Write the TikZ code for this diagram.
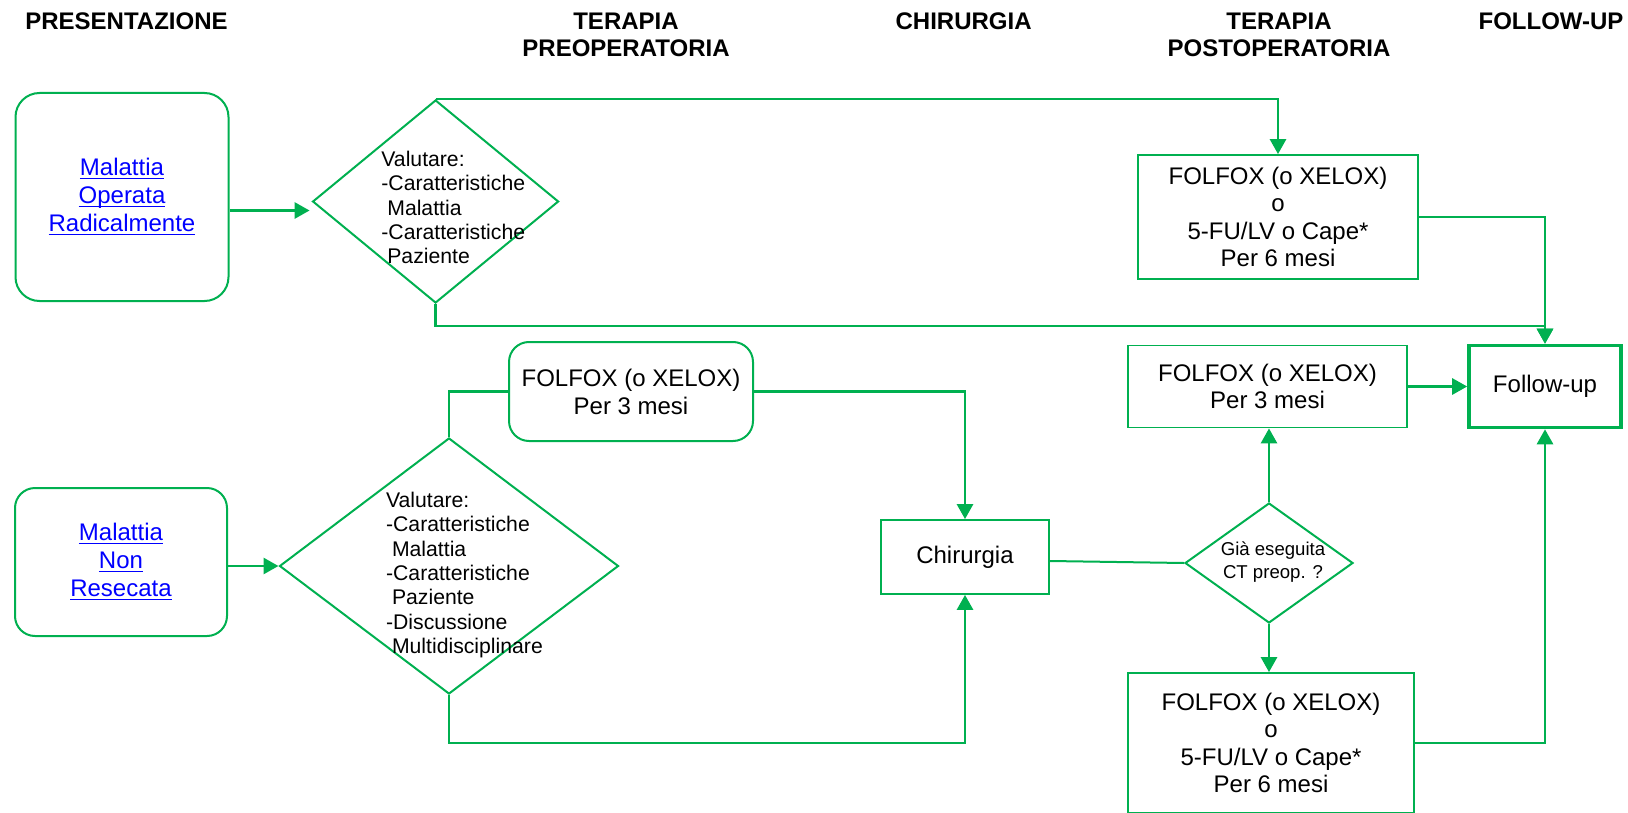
\documentclass[tikz,border=0pt]{standalone}
\usepackage{amsmath}
\usepackage{fontspec}
\setmainfont{Liberation Sans}
\usepackage{tikz}
\usetikzlibrary{arrows.meta,shapes.geometric}
\definecolor{flowgreen}{RGB}{0,176,80}
\definecolor{linkblue}{RGB}{0,0,255}
\newcommand{\lnk}[1]{\textcolor{linkblue}{\underline{\smash[b]{#1}}}}
\newcommand{\ind}{\hspace*{0.28em}}

\begin{document}
\begin{tikzpicture}[x=0.5pt,y=-0.5pt,
    flow/.style={draw=flowgreen, line width=1.4pt},
    flowarrow/.style={flow, -{Triangle[length=7.5pt,width=8pt]}},
    startbox/.style={draw=flowgreen, line width=1pt, rounded corners=12pt, align=center, font=\fontsize{12}{14}\selectfont},
    therapy/.style={draw=flowgreen, line width=0.9pt, align=center, font=\fontsize{12}{13.8}\selectfont},
    decision/.style={diamond, draw=flowgreen, line width=1pt, inner sep=0pt},
    dtext/.style={align=left, inner sep=0pt, font=\fontsize{10.6}{12.2}\selectfont},
    header/.style={align=center, inner sep=0pt, font=\bfseries\fontsize{12}{13.5}\selectfont}]

    \useasboundingbox (0,0) rectangle (1628,813);

    % Column headers
    \node[header] (hpres) at (126.5,21) {PRESENTAZIONE};
    \node[header] (hpre) at (626,34.5) {TERAPIA\\PREOPERATORIA};
    \node[header] (hchir) at (963.6,21) {CHIRURGIA};
    \node[header] (hpost) at (1279,34.5) {TERAPIA\\POSTOPERATORIA};
    \node[header] (hfol) at (1551,21) {FOLLOW-UP};

    % Upper path: operated disease
    \node[startbox, minimum width=106.5pt, minimum height=104pt] (oper) at (122,197) {\lnk{Malattia}\\\lnk{Operata}\\\lnk{Radicalmente}};
    \node[decision, minimum width=123pt, minimum height=101.5pt] (val1) at (435.6,201.5) {};
    \node[dtext, anchor=west] (val1txt) at (381,207.5) {Valutare:\\-Caratteristiche\\\ind Malattia\\-Caratteristiche\\\ind Paziente};
    \node[therapy, minimum width=140pt, minimum height=62pt] (post6a) at (1278,217) {FOLFOX (o XELOX)\\o\\5-FU/LV o Cape*\\Per 6 mesi};

    % Follow-up and short therapy
    \node[therapy, minimum width=76pt, minimum height=41pt, line width=1.8pt] (follow) at (1545,386.5) {Follow-up};
    \node[therapy, minimum width=139.5pt, minimum height=41pt] (post3) at (1267.5,386.5) {FOLFOX (o XELOX)\\Per 3 mesi};

    % Lower path: non resected disease
    \node[startbox, rounded corners=10pt, minimum width=106pt, minimum height=74pt] (nonres) at (121,562) {\lnk{Malattia}\\\lnk{Non}\\\lnk{Resecata}};
    \node[decision, minimum width=169.5pt, minimum height=128pt] (val2) at (449,566) {};
    \node[dtext, anchor=west] (val2txt) at (385.7,575) {Valutare:\\-Caratteristiche\\\ind Malattia\\-Caratteristiche\\\ind Paziente\\-Discussione\\\ind Multidisciplinare};
    \node[startbox, rounded corners=10pt, minimum width=122pt, minimum height=49.5pt] (pre3) at (631,391.5) {FOLFOX (o XELOX)\\Per 3 mesi};
    \node[therapy, minimum width=84pt, minimum height=37pt] (chir) at (965,557) {Chirurgia};
    \node[decision, minimum width=84pt, minimum height=60pt] (ctpre) at (1269,563) {};
    \node[align=center, inner sep=0pt, font=\fontsize{9.3}{11.3}\selectfont] (ctpretxt) at (1273,562) {Già eseguita\\CT preop. ?};
    \node[therapy, minimum width=143pt, minimum height=70pt] (post6b) at (1271,743) {FOLFOX (o XELOX)\\o\\5-FU/LV o Cape*\\Per 6 mesi};

    % Connectors, upper path
    \draw[flowarrow] ([yshift=-6.75pt]oper.east) -- ([xshift=-1pt,yshift=-4.5pt]val1.west);
    \draw[flowarrow] (val1.north) -| (post6a.north);
    \draw[flowarrow] (val1.south) -- ++(0,22) -| (follow.north);
    \draw[flowarrow] (post6a.east) -| (follow.north);
    \draw[flowarrow] (post3.east) -- (follow.west);

    % Connectors, lower path
    \draw[flowarrow] (nonres.east |- val2.west) -- (val2.west);
    \draw[flow] (val2.north) |- (pre3.west);
    \draw[flowarrow] (pre3.east) -| (chir.north);
    \draw[flowarrow] (val2.south) -- ++(0,48) -| (chir.south);
    \draw[flow, line width=1pt] ([yshift=-2pt]chir.east) -- (ctpre.west);
    \draw[flowarrow] (ctpre.north) -- (ctpre.north |- post3.south);
    \draw[flowarrow] (ctpre.south) -- (ctpre.south |- post6b.north);
    \draw[flowarrow] (post6b.east) -| (follow.south);

\end{tikzpicture}
\end{document}
